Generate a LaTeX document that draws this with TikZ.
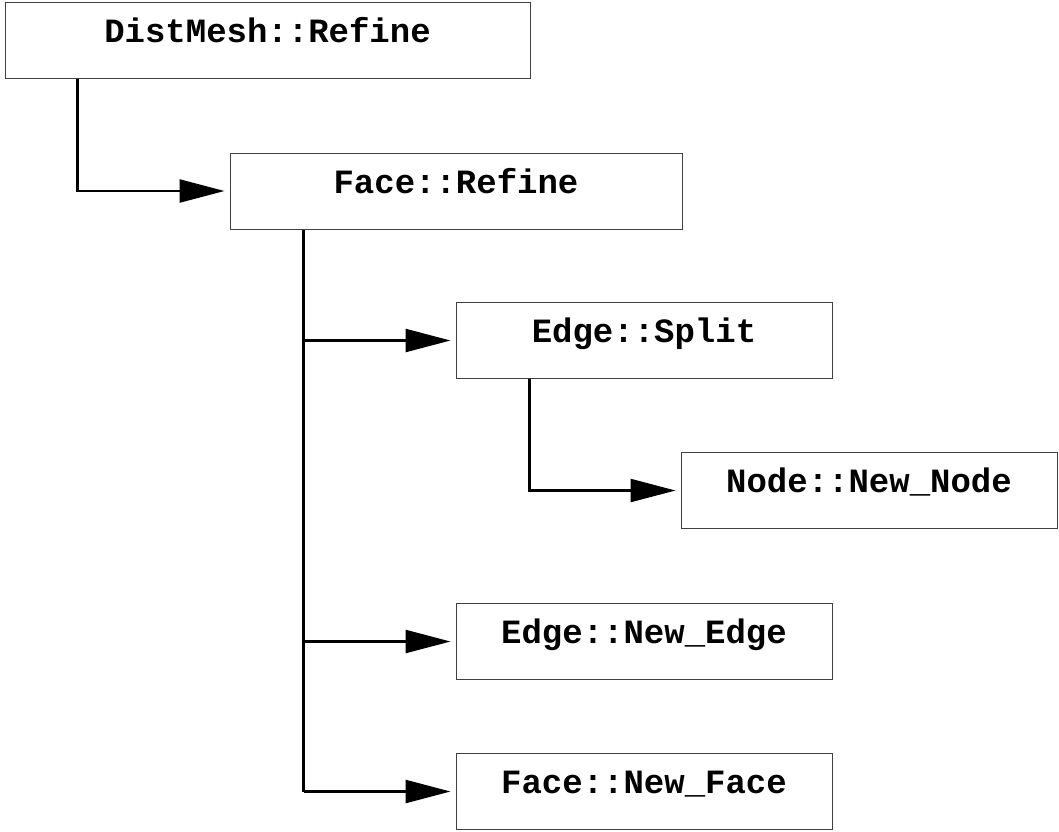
\documentclass[tikz,border=0pt]{standalone}
\usepackage{fontspec}
\setmonofont{Liberation Mono}
\usetikzlibrary{arrows.meta, positioning, calc}

\begin{document}
\begin{tikzpicture}[x=0.5pt, y=-0.5pt,
    font=\ttfamily\bfseries\fontsize{17}{20}\selectfont,
    box/.style={draw=black!75, line width=0.5pt, rectangle, inner sep=0pt,
        text height=20pt, text depth=18pt},
    call/.style={line width=1.25pt, -{Triangle[length=22.5pt, width=11.5pt]}, shorten >=2.5pt}]
    \useasboundingbox (0,0) rectangle (1059,831);
    % 函数框
    \node[box, minimum width=262.5pt] (DM) at (267.5,40) {DistMesh::Refine};
    \node[box, minimum width=226pt] (FR) at (456,191) {Face::Refine};
    \node[box, minimum width=188pt] (ES) at (644,340.5) {Edge::Split};
    \node[box, minimum width=188pt] (NN) at (869,490.5) {Node::New\_Node};
    \node[box, minimum width=188pt] (EN) at (644,641.5) {Edge::New\_Edge};
    \node[box, minimum width=188pt] (FN) at (644,791.5) {Face::New\_Face};
    % 调用关系
    \coordinate (t1) at ([xshift=36.5pt]DM.south west);
    \coordinate (t2) at ([xshift=37pt]FR.south west);
    \coordinate (t3) at ([xshift=37pt]ES.south west);
    \draw[call] (t1) |- (FR.west);
    \draw[line width=1.25pt] (t2) -- (t2 |- FN.west);
    \foreach \b in {ES, EN, FN} {
        \draw[call] (t2 |- \b.west) -- (\b.west);
    }
    \draw[call] (t3) |- (NN.west);
\end{tikzpicture}
\end{document}
